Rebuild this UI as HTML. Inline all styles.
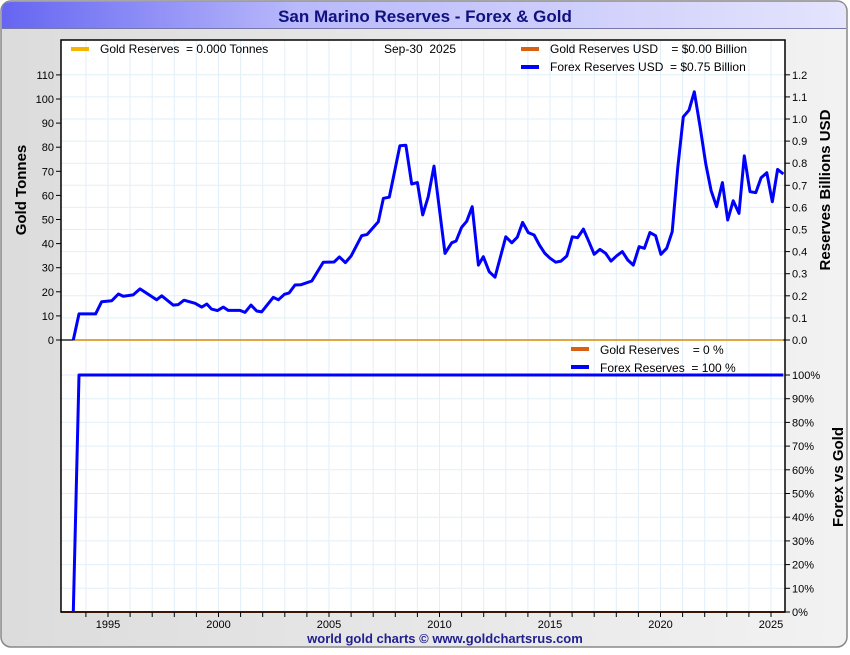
<!DOCTYPE html>
<html><head><meta charset="utf-8"><style>
body{margin:0;width:850px;height:650px;overflow:hidden;background:#fff;font-family:"Liberation Sans",sans-serif}
text{white-space:pre}
</style></head><body>
<svg id="c" width="850" height="650" xmlns="http://www.w3.org/2000/svg" font-family="Liberation Sans, sans-serif">
<defs>
<linearGradient id="tg" x1="0" x2="1"><stop offset="0" stop-color="#6565f2"/><stop offset="0.35" stop-color="#b9b9fb"/><stop offset="1" stop-color="#e4e4fd"/></linearGradient>
<linearGradient id="bg" x1="0" x2="1"><stop offset="0" stop-color="#dcdcdc"/><stop offset="1" stop-color="#f2f2f2"/></linearGradient>
</defs>
<rect x="1" y="1" width="846" height="646" rx="10" fill="url(#bg)" stroke="#888" stroke-width="1.5"/>
<path d="M2 28 V11 Q2 2 11 2 H837 Q846 2 846 11 V28 Z" fill="url(#tg)"/>
<line x1="2" y1="28.5" x2="846" y2="28.5" stroke="#7777aa"/>
<text x="425" y="22" text-anchor="middle" font-size="17" font-weight="bold" fill="#101080">San Marino Reserves - Forex &amp; Gold</text>
<rect x="61" y="40" width="724" height="572" fill="#fff"/>
<g id="grid"></g>
<g id="series"></g>
<rect x="61" y="40" width="724" height="572" fill="none" stroke="#000" stroke-width="1.5"/>
<g id="axes" font-size="11" fill="#000"></g>
<text x="26" y="190" transform="rotate(-90 26 190)" text-anchor="middle" font-size="15" font-weight="bold">Gold Tonnes</text>
<text x="830" y="190" transform="rotate(-90 830 190)" text-anchor="middle" font-size="15" font-weight="bold">Reserves Billions USD</text>
<text x="843" y="477" transform="rotate(-90 843 477)" text-anchor="middle" font-size="15" font-weight="bold">Forex vs Gold</text>
<g font-size="12">
<rect x="71" y="47" width="18" height="4" fill="#f5b400"/><text x="100" y="53">Gold Reserves  = 0.000 Tonnes</text>
<text x="384" y="53">Sep-30  2025</text>
<rect x="521" y="47" width="18" height="4" fill="#d86010"/><text x="550" y="53">Gold Reserves USD    = $0.00 Billion</text>
<rect x="521" y="65" width="18" height="4" fill="#0000ff"/><text x="550" y="71">Forex Reserves USD  = $0.75 Billion</text>
</g>
<g font-size="12">
<rect x="571" y="347" width="18" height="4" fill="#d86010"/><text x="600" y="354">Gold Reserves    = 0 %</text>
<rect x="571" y="365" width="18" height="4" fill="#0000ff"/><text x="600" y="372">Forex Reserves  = 100 %</text>
</g>
<text x="445" y="643" text-anchor="middle" font-size="13" font-weight="bold" fill="#202090">world gold charts © www.goldchartsrus.com</text>
</svg>
<script>
const years=[1993.43,1993.69,1994.44,1994.71,1995.17,1995.47,1995.69,1996.14,1996.45,1997.20,1997.43,1997.95,1998.18,1998.44,1998.94,1999.24,1999.47,1999.69,1999.95,2000.22,2000.44,2000.97,2001.20,2001.47,2001.73,2001.95,2002.48,2002.71,2002.98,2003.20,2003.46,2003.72,2004.22,2004.74,2005.23,2005.47,2005.74,2006.00,2006.48,2006.73,2007.23,2007.46,2007.73,2008.21,2008.48,2008.74,2009.00,2009.24,2009.49,2009.75,2010.25,2010.55,2010.75,2011.00,2011.23,2011.48,2011.76,2011.98,2012.25,2012.51,2013.00,2013.27,2013.52,2013.76,2014.02,2014.28,2014.52,2014.77,2015.00,2015.26,2015.50,2015.76,2016.01,2016.25,2016.51,2016.76,2017.00,2017.26,2017.52,2017.76,2018.02,2018.27,2018.52,2018.77,2019.03,2019.27,2019.52,2019.78,2020.02,2020.28,2020.53,2020.78,2021.03,2021.29,2021.53,2021.79,2022.05,2022.29,2022.54,2022.80,2023.04,2023.29,2023.55,2023.79,2024.05,2024.31,2024.55,2024.81,2025.06,2025.30,2025.56];
const forexUSD=[0,0.118,0.118,0.173,0.178,0.208,0.198,0.204,0.231,0.182,0.2,0.158,0.16,0.18,0.166,0.149,0.163,0.14,0.133,0.149,0.134,0.134,0.125,0.158,0.131,0.127,0.193,0.182,0.207,0.213,0.249,0.25,0.267,0.352,0.353,0.376,0.35,0.38,0.472,0.478,0.535,0.641,0.646,0.879,0.881,0.706,0.712,0.566,0.648,0.787,0.392,0.44,0.448,0.51,0.537,0.603,0.339,0.377,0.309,0.284,0.467,0.44,0.465,0.532,0.486,0.475,0.43,0.392,0.37,0.352,0.357,0.38,0.467,0.463,0.502,0.445,0.388,0.41,0.392,0.357,0.381,0.4,0.362,0.339,0.422,0.415,0.486,0.472,0.388,0.415,0.49,0.777,1.01,1.04,1.123,0.965,0.796,0.676,0.603,0.712,0.543,0.63,0.573,0.833,0.671,0.667,0.734,0.757,0.626,0.772,0.751];
const goldUSD=years.map(()=>0);
const forexPct=years.map((y,i)=>i===0?0:100);
const leftTicks=[0,10,20,30,40,50,60,70,80,90,100,110];
const rightTicks=[0,0.1,0.2,0.3,0.4,0.5,0.6,0.7,0.8,0.9,1.0,1.1,1.2];
const pctTicks=[0,10,20,30,40,50,60,70,80,90,100];
const yearTicks=[1995,2000,2005,2010,2015,2020,2025];

const NS="http://www.w3.org/2000/svg";
const X=y=>108+(y-1995)*22.1;
const YL=v=>340-v*2.41;
const YR=v=>340-v*221;
const YP=v=>612-v*2.37;
function mk(t,a,p){const e=document.createElementNS(NS,t);for(const k in a)e.setAttribute(k,a[k]);p.appendChild(e);return e;}
const grid=document.getElementById('grid'),ser=document.getElementById('series'),ax=document.getElementById('axes');
for(let y=1994;y<=2025;y++){const g=mk('line',{x1:X(y),x2:X(y),y1:40,y2:612,stroke:'#e2eff8','stroke-width':1},grid);


const t=mk('line',{x1:X(y),x2:X(y),y1:612,y2:617,stroke:'#000'},ax);

}
rightTicks.forEach(v=>{const g=mk('line',{x1:61,x2:785,y1:YR(v),y2:YR(v),stroke:'#e2eff8'},grid);


mk('line',{x1:785,x2:790,y1:YR(v),y2:YR(v),stroke:'#000'},ax);
const t=mk('text',{x:792,y:YR(v)+4},ax);t.textContent=v.toFixed(1);

});
leftTicks.forEach(v=>{mk('line',{x1:56,x2:61,y1:YL(v),y2:YL(v),stroke:'#000'},ax);
const t=mk('text',{x:54,y:YL(v)+4,'text-anchor':'end'},ax);t.textContent=v;

});
pctTicks.forEach(v=>{const g=mk('line',{x1:61,x2:785,y1:YP(v),y2:YP(v),stroke:'#e2eff8'},grid);


mk('line',{x1:785,x2:790,y1:YP(v),y2:YP(v),stroke:'#000'},ax);
const t=mk('text',{x:792,y:YP(v)+4},ax);t.textContent=v+'%';

});
yearTicks.forEach(y=>{const t=mk('text',{x:X(y),y:628,'text-anchor':'middle'},ax);t.textContent=y;

});
const sep=mk('line',{x1:61,x2:785,y1:340,y2:340,stroke:'#000','stroke-width':1.2},ser);


function line(ys,f,col,w,name){const d=years.map((y,i)=>(i?'L':'M')+X(y).toFixed(1)+' '+f(ys[i]).toFixed(1)).join(' ');
const p=mk('path',{d:d,fill:'none',stroke:col,'stroke-width':w,'stroke-linejoin':'round'},ser);


return p;}
line(goldUSD,YR,'#e8a020',1.5,'gold-usd-line');
line(forexUSD,YR,'#0000ff',3,'forex-usd-line');
line(forexPct,YP,'#0000ff',3,'forex-percent-line');
const gp=mk('line',{x1:61,x2:785,y1:612,y2:612,stroke:'#d86010','stroke-width':2},ser);


</script>
</body></html>
